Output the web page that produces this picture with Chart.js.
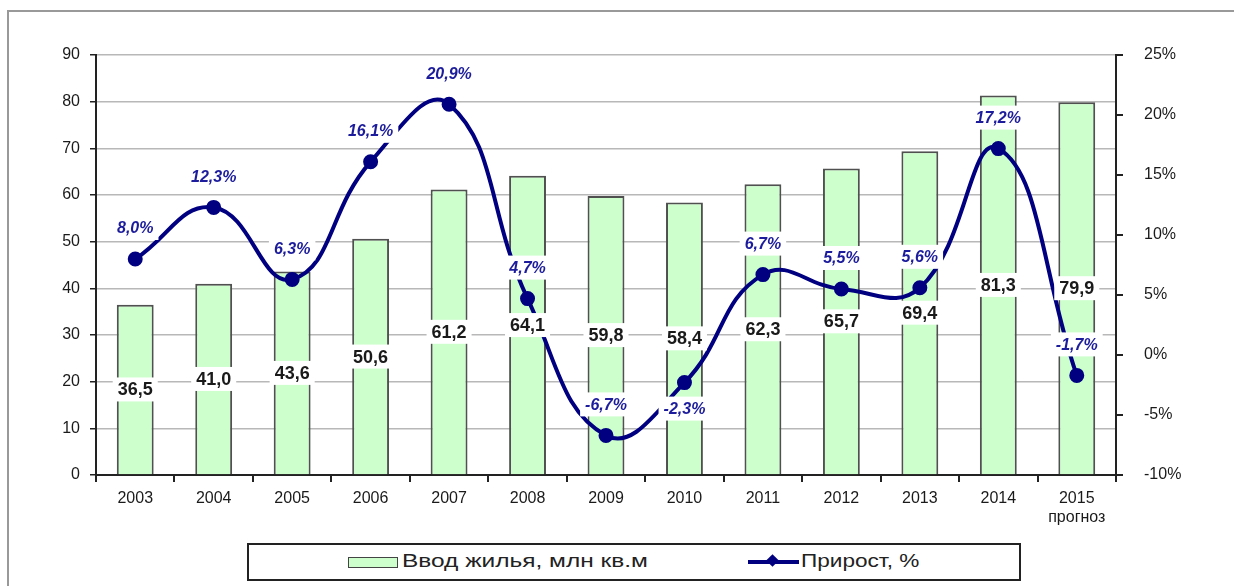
<!DOCTYPE html>
<html>
<head>
<meta charset="utf-8">
<script src="https://cdn.jsdelivr.net/npm/chart.js@4.4.1/dist/chart.umd.min.js"></script>
<style>
  html, body { margin: 0; padding: 0; background: #fff; }
  body { width: 1234px; height: 586px; position: relative; overflow: hidden; font-family: "Liberation Sans", Arial, sans-serif; }
  #frame { position: absolute; left: 7px; top: 10px; width: 1240px; height: 600px; border: 2px solid #999; box-sizing: border-box; }
  #wrap { position: absolute; left: 0; top: 0; width: 1234px; height: 586px; }
  #legend { position: absolute; left: 247px; top: 543px; width: 774px; height: 38px; border: 2px solid #222; box-sizing: border-box; background: #fff;
            font-size: 18px; color: #222; }
  .sw { position: absolute; top: 12px; width: 50px; height: 11px; background: #ccffcc; border: 1px solid #444; box-sizing: border-box; }
  .ln { position: absolute; top: 15px; width: 51px; height: 4px; background: #000080; }
  .ln:after { content: ""; position: absolute; left: 20px; top: -4px; width: 9px; height: 9px; background: #000080; transform: rotate(45deg); }
  .tx { position: absolute; top: 6px; white-space: nowrap; transform-origin: 0 50%; }
</style>
</head>
<body>
<div id="frame"></div>
<div id="wrap"><canvas id="c" width="1234" height="586"></canvas></div>
<div id="legend">
  <span class="sw" style="left:99px"></span>
  <span class="tx" id="t1" style="left:153px">Ввод жилья, млн кв.м</span>
  <span class="ln" style="left:499px"></span>
  <span class="tx" id="t2" style="left:552px">Прирост, %</span>
</div>
<script>
// data
var years = ['2003', '2004', '2005', '2006', '2007', '2008', '2009', '2010', '2011', '2012', '2013', '2014', ['2015', 'прогноз']];
var housing = [36.5, 41.0, 43.6, 50.6, 61.2, 64.1, 59.8, 58.4, 62.3, 65.7, 69.4, 81.3, 79.9];
var growth = [8.0, 12.3, 6.3, 16.1, 20.9, 4.7, -6.7, -2.3, 6.7, 5.5, 5.6, 17.2, -1.7];
var leftTicks = [0, 10, 20, 30, 40, 50, 60, 70, 80, 90];
var rightTicks = [-10, -5, 0, 5, 10, 15, 20, 25];

// stretch legend texts to the widths seen in the picture
function fitText(id, w) {
    var el = document.getElementById(id);
    el.style.transform = 'scaleX(' + (w / el.offsetWidth) + ')';
}
fitText('t1', 246);
fitText('t2', 118);

function comma(v) { return v.toFixed(1).replace('.', ','); }

function box(ctx, text, x, y, font, color) {
    ctx.font = font;
    var w = ctx.measureText(text).width + 10;
    ctx.fillStyle = '#fff';
    ctx.fillRect(x - w / 2, y - 12, w, 24);
    ctx.fillStyle = color;
    ctx.textAlign = 'center';
    ctx.textBaseline = 'middle';
    ctx.fillText(text, x, y + 1);
}

var valueLabels = {
    id: 'valueLabels',
    afterDatasetsDraw: function (chart, args, opts) {
        var ctx = chart.ctx;
        ctx.save();
        var bars = chart.getDatasetMeta(0).data;
        for (var i = 0; i < bars.length; i++) {
            var b = bars[i];
            box(ctx, comma(housing[i]), b.x, (b.y + b.base) / 2, 'bold 18px "Liberation Sans", Arial', '#1a1a1a');
        }
        var pts = chart.getDatasetMeta(1).data;
        for (var j = 0; j < pts.length; j++) {
            var p = pts[j];
            var dy = opts.below.indexOf(j) >= 0 ? 26 : -31;
            box(ctx, comma(growth[j]) + '%', p.x, p.y + dy, 'italic bold 16px "Liberation Sans", Arial', '#1c1c9c');
        }
        ctx.restore();
    }
};

var tickFont = { family: '"Liberation Sans", Arial, sans-serif', size: 16 };

new Chart(document.getElementById('c'), {
    data: {
        labels: years,
        datasets: [{
            type: 'bar',
            label: 'Ввод жилья, млн кв.м',
            data: housing,
            yAxisID: 'y',
            backgroundColor: '#ccffcc',
            borderColor: '#505050',
            borderWidth: 2,
            barPercentage: 0.47,
            categoryPercentage: 1,
            order: 2
        }, {
            type: 'line',
            label: 'Прирост, %',
            data: growth,
            yAxisID: 'y1',
            borderColor: '#000080',
            backgroundColor: '#000080',
            borderWidth: 4,
            tension: 0.45,
            pointRadius: 5.5,
            pointHoverRadius: 5.5,
            order: 1
        }]
    },
    options: {
        responsive: false,
        animation: false,
        events: [],
        layout: { padding: { top: 55, bottom: 0, left: 0, right: 0 } },
        plugins: {
            legend: { display: false },
            tooltip: { enabled: false },
            valueLabels: { below: [7] }
        },
        scales: {
            x: {
                offset: true,
                grid: { offset: true, drawOnChartArea: false, color: '#222', lineWidth: 2, tickLength: 7 },
                border: { color: '#222', width: 2 },
                ticks: { color: '#1a1a1a', font: tickFont, padding: 7, maxRotation: 0 },
                afterFit: function (s) { s.height = 111; }
            },
            y: {
                position: 'left',
                min: 0, max: 90,
                afterBuildTicks: function (s) { s.ticks = leftTicks.map(function (v) { return { value: v }; }); },
                grid: { color: '#b8b8b8', lineWidth: 1.5, tickLength: 6, tickColor: '#222' },
                border: { color: '#222', width: 2 },
                ticks: { color: '#1a1a1a', font: tickFont, padding: 10 },
                afterFit: function (s) { s.width = 96; }
            },
            y1: {
                position: 'right',
                min: -10, max: 25,
                afterBuildTicks: function (s) { s.ticks = rightTicks.map(function (v) { return { value: v }; }); },
                grid: { drawOnChartArea: false, tickLength: 7, color: '#222', lineWidth: 2 },
                border: { color: '#222', width: 2 },
                ticks: { color: '#1a1a1a', font: tickFont, padding: 21, callback: function (v) { return v + '%'; } },
                afterFit: function (s) { s.width = 118; }
            }
        }
    },
    plugins: [valueLabels]
});
</script>
</body>
</html>
